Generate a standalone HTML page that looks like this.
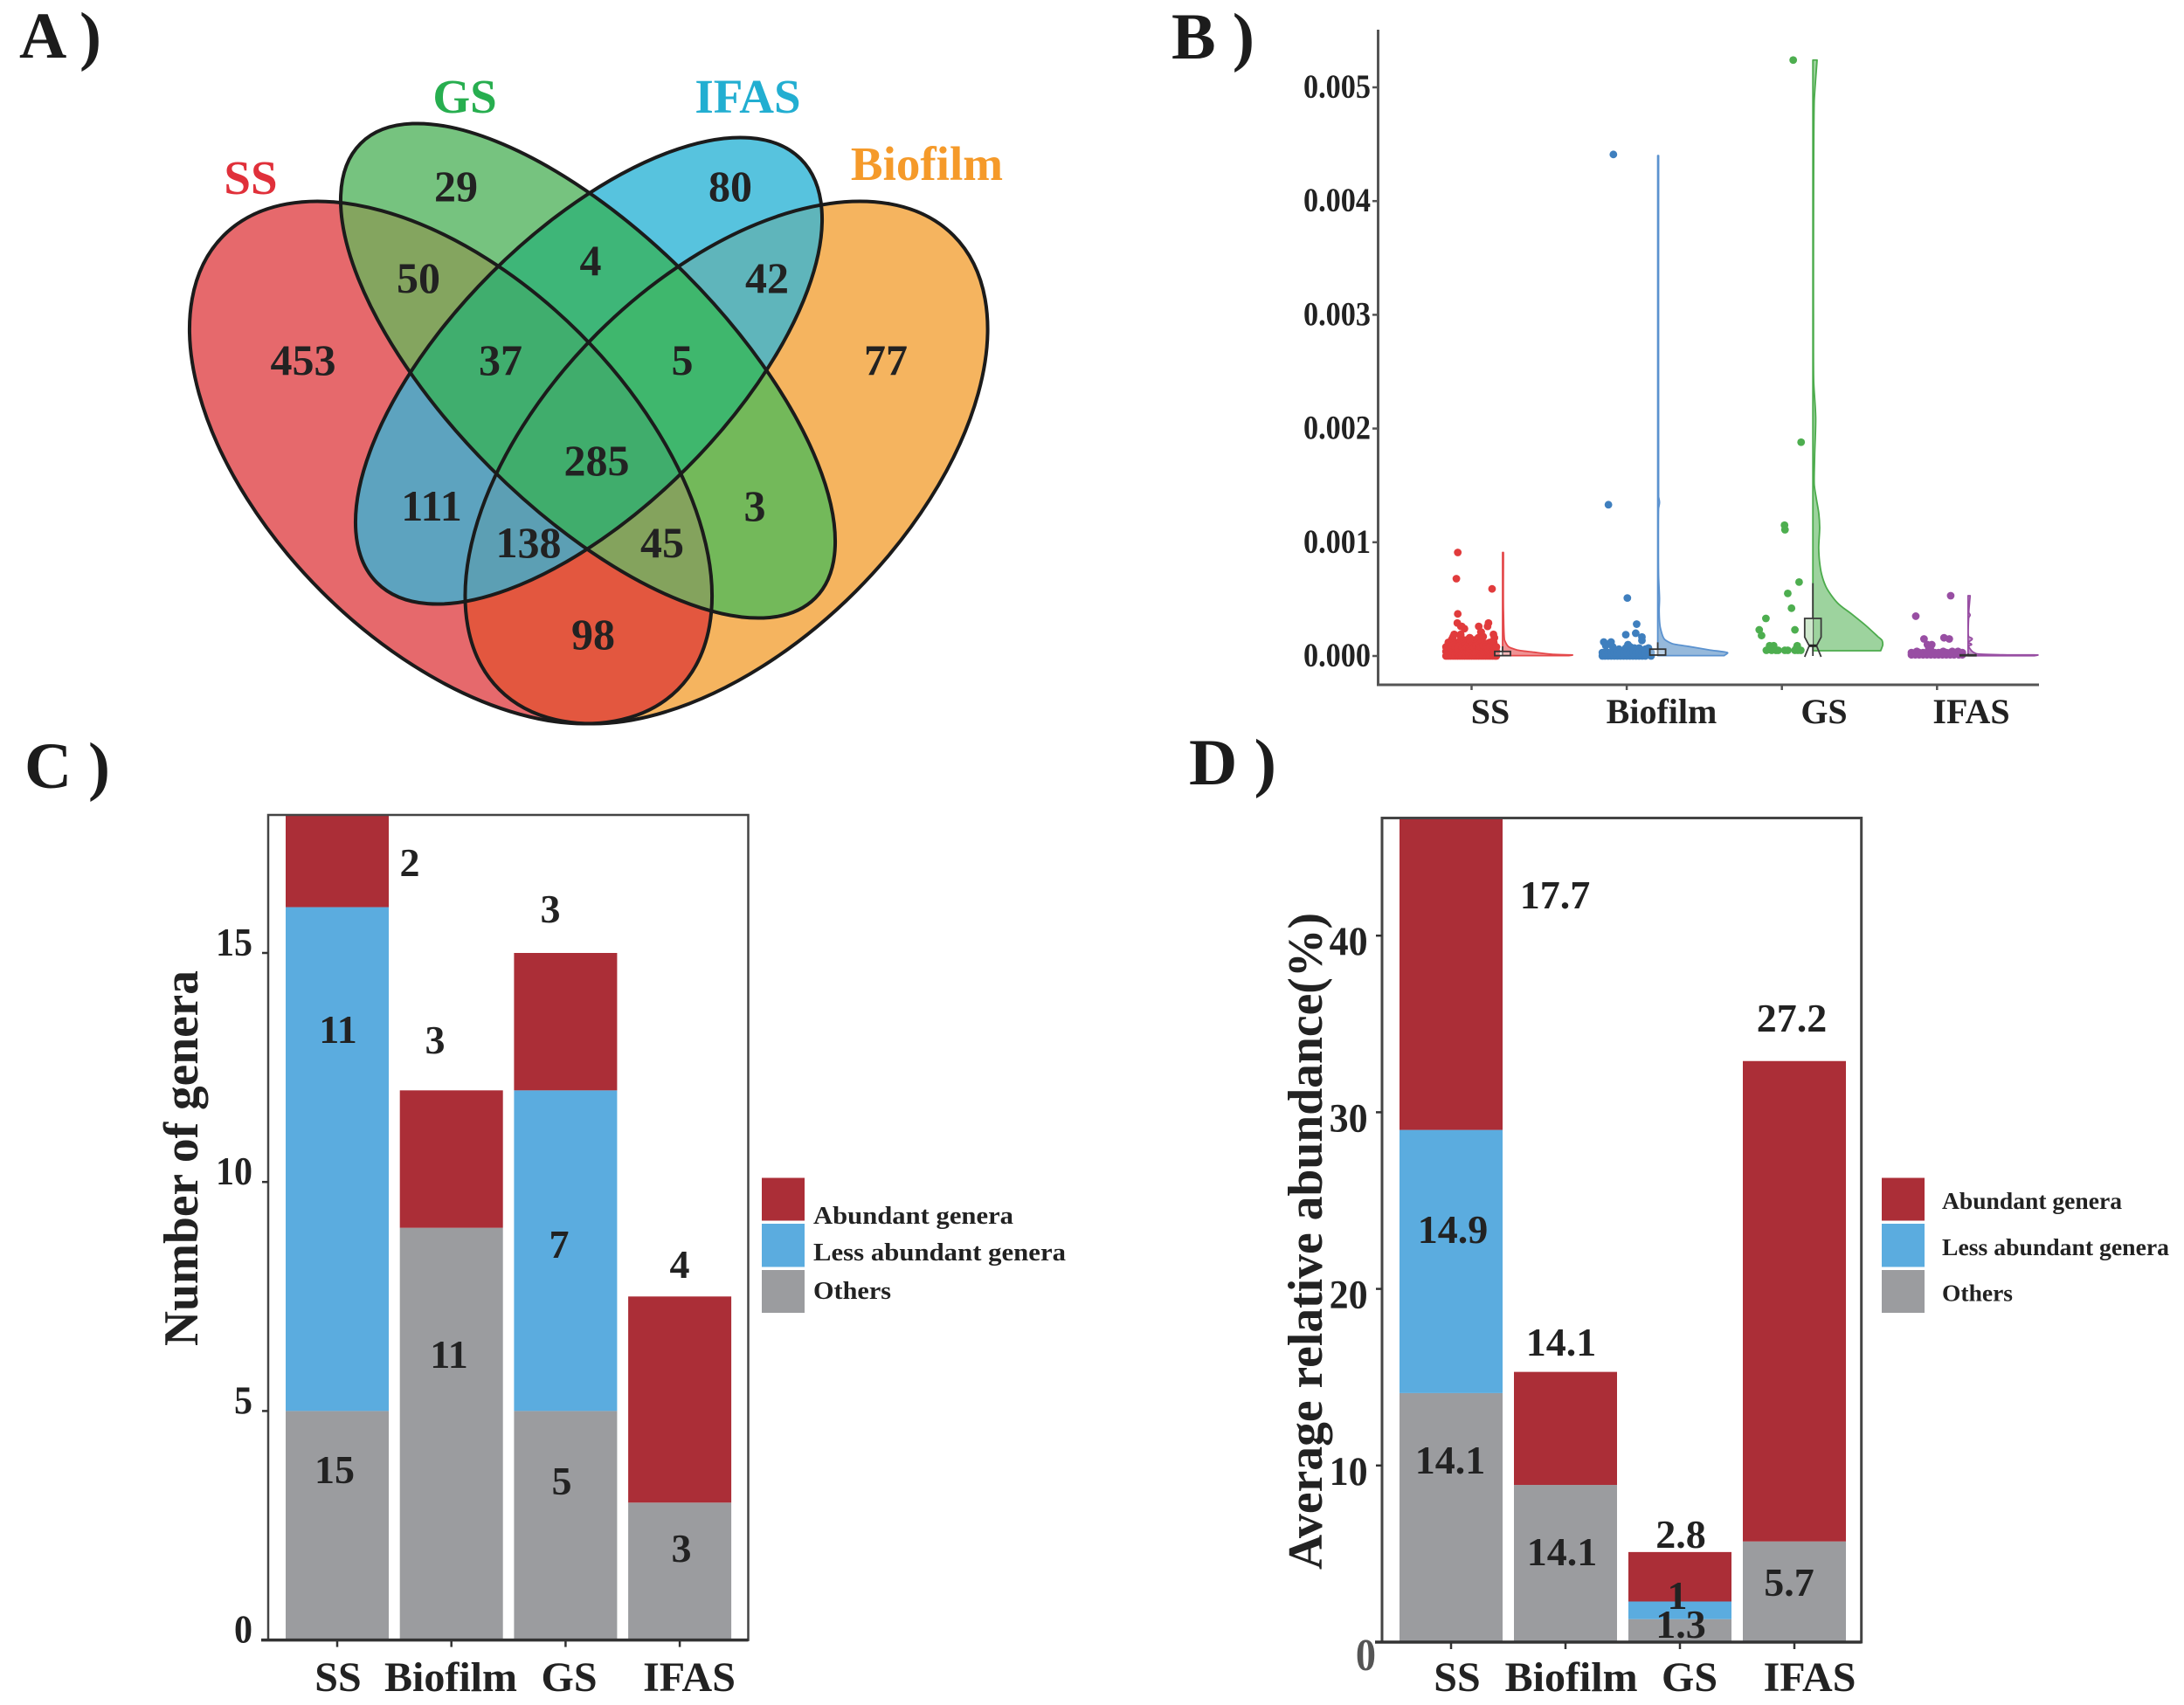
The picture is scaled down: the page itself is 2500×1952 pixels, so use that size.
<!DOCTYPE html>
<html lang="en">
<head>
<meta charset="utf-8">
<title>Genera Venn diagram, abundance raincloud and stacked bars</title>
<style>
html,body{margin:0;padding:0;background:#fff;}
svg{display:block;}
text{font-family:"Liberation Serif",serif;font-weight:bold;fill:#222;}
.mid{text-anchor:middle;}
.venn-count{font-size:50px;text-anchor:middle;}
.venn-title{font-size:55px;text-anchor:middle;}
.panel{font-size:75px;fill:#1c1c1c;}
.xlab{font-size:48px;text-anchor:middle;}
.xlab-b{font-size:40px;text-anchor:middle;}
.val{font-size:46px;text-anchor:middle;}
.leg-c{font-size:29px;}
.leg-d{font-size:27px;}
</style>
</head>
<body>
<svg id="figure" xmlns="http://www.w3.org/2000/svg" width="2500" height="1952" viewBox="0 0 2500 1952">
<rect x="0" y="0" width="2500" height="1952" fill="#ffffff"/>
<defs>
<clipPath id="cSS"><ellipse cx="516" cy="529.5" rx="367.6" ry="209" transform="rotate(45 516 529.5)"/></clipPath>
<clipPath id="cBio"><ellipse cx="831.5" cy="529.5" rx="367.6" ry="209" transform="rotate(-45 831.5 529.5)"/></clipPath>
<clipPath id="cGS"><ellipse cx="673" cy="424.5" rx="368" ry="157.5" transform="rotate(45 673 424.5)"/></clipPath>
<clipPath id="cIF"><ellipse cx="674" cy="424.5" rx="343" ry="158" transform="rotate(-45 674 424.5)"/></clipPath>
</defs>

<text class="panel" x="22" y="66" textLength="94" lengthAdjust="spacingAndGlyphs">A )</text>
<text class="panel" x="1341" y="67" textLength="95" lengthAdjust="spacingAndGlyphs">B )</text>
<text class="panel" x="28" y="902" textLength="98" lengthAdjust="spacingAndGlyphs">C )</text>
<text class="panel" x="1361" y="898" textLength="100" lengthAdjust="spacingAndGlyphs">D )</text>

<g>
  <ellipse cx="516" cy="529.5" rx="367.6" ry="209" transform="rotate(45 516 529.5)" fill="#e6696c"/>
  <ellipse cx="831.5" cy="529.5" rx="367.6" ry="209" transform="rotate(-45 831.5 529.5)" fill="#f5b45f"/>
  <ellipse cx="673" cy="424.5" rx="368" ry="157.5" transform="rotate(45 673 424.5)" fill="#76c37f"/>
  <ellipse cx="674" cy="424.5" rx="343" ry="158" transform="rotate(-45 674 424.5)" fill="#57c3de"/>
  <g clip-path="url(#cSS)"><rect clip-path="url(#cBio)" width="1300" height="900" fill="#e3573f"/></g>
  <g clip-path="url(#cSS)"><rect clip-path="url(#cGS)" width="1300" height="900" fill="#84a55f"/></g>
  <g clip-path="url(#cSS)"><rect clip-path="url(#cIF)" width="1300" height="900" fill="#5da3bf"/></g>
  <g clip-path="url(#cBio)"><rect clip-path="url(#cGS)" width="1300" height="900" fill="#73b95a"/></g>
  <g clip-path="url(#cBio)"><rect clip-path="url(#cIF)" width="1300" height="900" fill="#5fb5bb"/></g>
  <g clip-path="url(#cGS)"><rect clip-path="url(#cIF)" width="1300" height="900" fill="#3eb678"/></g>
  <g clip-path="url(#cSS)"><g clip-path="url(#cGS)"><rect clip-path="url(#cIF)" width="1300" height="900" fill="#40ae6e"/></g></g>
  <g clip-path="url(#cBio)"><g clip-path="url(#cGS)"><rect clip-path="url(#cIF)" width="1300" height="900" fill="#3fb76d"/></g></g>
  <g clip-path="url(#cSS)"><g clip-path="url(#cBio)"><rect clip-path="url(#cIF)" width="1300" height="900" fill="#5c9fb4"/></g></g>
  <g clip-path="url(#cSS)"><g clip-path="url(#cBio)"><rect clip-path="url(#cGS)" width="1300" height="900" fill="#84a35d"/></g></g>
  <g clip-path="url(#cSS)"><g clip-path="url(#cBio)"><g clip-path="url(#cGS)"><rect clip-path="url(#cIF)" width="1300" height="900" fill="#40ad6c"/></g></g></g>
  <g fill="none" stroke="#1b1b1b" stroke-width="4">
    <ellipse cx="516" cy="529.5" rx="367.6" ry="209" transform="rotate(45 516 529.5)"/>
    <ellipse cx="831.5" cy="529.5" rx="367.6" ry="209" transform="rotate(-45 831.5 529.5)"/>
    <ellipse cx="673" cy="424.5" rx="368" ry="157.5" transform="rotate(45 673 424.5)"/>
    <ellipse cx="674" cy="424.5" rx="343" ry="158" transform="rotate(-45 674 424.5)"/>
  </g>
  <text class="venn-title" x="287" y="222" style="fill:#e0303a">SS</text>
  <text class="venn-title" x="532" y="129" style="fill:#27ae4f">GS</text>
  <text class="venn-title" x="856" y="129" style="fill:#22aed1">IFAS</text>
  <text class="venn-title" x="1061" y="206" style="fill:#f59a2a">Biofilm</text>
  <text class="venn-count" x="347" y="429">453</text>
  <text class="venn-count" x="522" y="230">29</text>
  <text class="venn-count" x="836" y="230">80</text>
  <text class="venn-count" x="479" y="335">50</text>
  <text class="venn-count" x="676" y="315">4</text>
  <text class="venn-count" x="878" y="335">42</text>
  <text class="venn-count" x="573" y="429">37</text>
  <text class="venn-count" x="781" y="429">5</text>
  <text class="venn-count" x="1014" y="429">77</text>
  <text class="venn-count" x="683" y="544">285</text>
  <text class="venn-count" x="494" y="596">111</text>
  <text class="venn-count" x="864" y="596">3</text>
  <text class="venn-count" x="605" y="638">138</text>
  <text class="venn-count" x="758" y="638">45</text>
  <text class="venn-count" x="679" y="743">98</text>
</g>

<g id="panel-b"></g>
<text class="xlab-b" x="1706" y="828">SS</text>
<text class="xlab-b" x="1902" y="828">Biofilm</text>
<text class="xlab-b" x="2088" y="828">GS</text>
<text class="xlab-b" x="2256.5" y="828">IFAS</text>

<g id="panel-c"></g>
<text class="mid" font-size="56" transform="translate(226 1326) rotate(-90)" textLength="430" lengthAdjust="spacingAndGlyphs">Number of genera</text>
<text class="xlab" x="387" y="1936">SS</text>
<text class="xlab" x="516" y="1936">Biofilm</text>
<text class="xlab" x="651.5" y="1936">GS</text>
<text class="xlab" x="789" y="1936">IFAS</text>
<text class="val" x="469" y="1003">2</text>
<text class="val" x="498" y="1206">3</text>
<text class="val" x="630" y="1056">3</text>
<text class="val" x="778" y="1463">4</text>
<text class="val" x="387" y="1194">11</text>
<text class="val" x="383" y="1698">15</text>
<text class="val" x="514" y="1566">11</text>
<text class="val" x="640" y="1440">7</text>
<text class="val" x="643" y="1711">5</text>
<text class="val" x="780" y="1788">3</text>
<g>
  <rect x="872" y="1348.5" width="49" height="49" fill="#ab2e37"/>
  <rect x="872" y="1401" width="49" height="49.5" fill="#5bacdf"/>
  <rect x="872" y="1454" width="49" height="49" fill="#9b9c9f"/>
  <text class="leg-c" x="931" y="1401" textLength="229" lengthAdjust="spacingAndGlyphs">Abundant genera</text>
  <text class="leg-c" x="931" y="1443" textLength="289" lengthAdjust="spacingAndGlyphs">Less abundant genera</text>
  <text class="leg-c" x="931" y="1487" textLength="89" lengthAdjust="spacingAndGlyphs">Others</text>
</g>

<g id="panel-d"></g>
<text class="mid" font-size="56" transform="translate(1513 1421) rotate(-90)" textLength="752" lengthAdjust="spacingAndGlyphs">Average relative abundance(%)</text>
<text class="xlab" x="1668" y="1936">SS</text>
<text class="xlab" x="1798.6" y="1936">Biofilm</text>
<text class="xlab" x="1934" y="1936">GS</text>
<text class="xlab" x="2071.5" y="1936">IFAS</text>
<text class="val" x="1780" y="1040">17.7</text>
<text class="val" x="1663" y="1423">14.9</text>
<text class="val" x="1660" y="1687">14.1</text>
<text class="val" x="1787" y="1552">14.1</text>
<text class="val" x="1788" y="1792">14.1</text>
<text class="val" x="2051" y="1181">27.2</text>
<text class="val" x="1924" y="1772">2.8</text>
<text class="val" x="1920" y="1842">1</text>
<text class="val" x="1924" y="1875">1.3</text>
<text class="val" x="2048" y="1827">5.7</text>
<g>
  <rect x="2154" y="1348.5" width="49" height="49" fill="#ab2e37"/>
  <rect x="2154" y="1401" width="49" height="49.5" fill="#5bacdf"/>
  <rect x="2154" y="1454" width="49" height="49" fill="#9b9c9f"/>
  <text class="leg-d" x="2223" y="1384" textLength="206" lengthAdjust="spacingAndGlyphs">Abundant genera</text>
  <text class="leg-d" x="2223" y="1437" textLength="260" lengthAdjust="spacingAndGlyphs">Less abundant genera</text>
  <text class="leg-d" x="2223" y="1489.5" textLength="81" lengthAdjust="spacingAndGlyphs">Others</text>
</g>
</svg>

<script>
/* ---------- Panel B data ---------- */
const bCategories = ['SS', 'Biofilm', 'GS', 'IFAS'];
const bTickValues = [0, 0.001, 0.002, 0.003, 0.004, 0.005];
const bTickLabels = ['0.000', '0.001', '0.002', '0.003', '0.004', '0.005'];

const ssValues = [0.00091,0.00068,0.00059,0.00037,0.00029,0.00026,0.00024,0.00026,0.00029,0.00026,0.00021,0.00019,0.00015,0.00017,0.00016,0.00017,0.00019,0.00016,0.00015,0.00014,0.00012,0.00011,0.00012,0.00012,0.00011,
0.00017,0.00014,0.00011,0.00026,0.00019,0.00014,0.00016,0.00014,0.00021,0.00016,0.00012,0.00011,0.00011,0.00012,0.00011,0.00012,0.00011,0.00012,0.00011,0.00012,
0,0,0,0,0,0,0,0,0,0,0,0,0,0,0,0,0,0,0,0,0,0,0,
0.00004,0.00004,0.00004,0.00004,0.00004,0.00004,0.00004,0.00004,0.00004,0.00004,0.00004,0.00004,0.00004,0.00004,0.00004,0.00004,0.00004,0.00004,0.00004,0.00004,0.00004,0.00004,0.00004,
0.00008,0.00009,0.00007,0.00009,0.00008,0.00007,0.00009,0.00008,0.00009,0.00008,0.00007,0.00009,0.00008,0.00009,0.00007,0.00008,0.00009,0.00008,0.00007,0.00008,0.00009,0.00007,0.00008];
const ssJitter = [-0.089,-0.098,0.132,-0.089,-0.092,-0.069,-0.046,0.046,0.109,0.103,0.06,-0.112,-0.126,-0.069,-0.011,0.075,0.141,0.147,0.046,-0.034,0.017,-0.14,-0.09,0.118,0.089,
-0.119,-0.125,-0.131,-0.063,-0.07,-0.07,-0.013,0.015,0.062,0.043,0.143,0.081,-0.041,-0.01,-0.12,-0.15,0.03,0.06,0.1,0.13,
-0.165,-0.15,-0.135,-0.12,-0.105,-0.09,-0.075,-0.06,-0.045,-0.03,-0.015,0,0.015,0.03,0.045,0.06,0.075,0.09,0.105,0.12,0.135,0.15,0.16,
-0.165,-0.15,-0.135,-0.12,-0.105,-0.09,-0.075,-0.06,-0.045,-0.03,-0.015,0,0.015,0.03,0.045,0.06,0.075,0.09,0.105,0.12,0.135,0.15,0.16,
-0.165,-0.15,-0.135,-0.12,-0.105,-0.09,-0.075,-0.06,-0.045,-0.03,-0.015,0,0.015,0.03,0.045,0.06,0.075,0.09,0.105,0.12,0.135,0.15,0.16];

const biofilmValues = [0.00441,0.00133,0.00051,0.00028,0.000187,0.0002,0.000167,0.000136,0.000123,0.000123,0.0001,0.00009,0.00008,0.00007,0.00008,0.00007,0.00006,0.00007,0.00006,0.00007,
0,0,0,0,0,0,0,0,0,0,0,0,0,0,0,0,0.00003,0.00003,0.00003,0.00003,0.00003,0.00003,0.00003,0.00003,0.00003,0.00003,0.00003,0.00003,0.00003,0.00003,0.00003,0.00003];
const biofilmJitter = [-0.086,-0.118,0.004,0.064,-0.006,0.058,0.098,0.098,-0.148,-0.101,0.008,-0.135,-0.09,-0.006,0.023,0.08,-0.05,0.05,0.12,0.14,
-0.157,-0.14,-0.12,-0.1,-0.08,-0.06,-0.04,-0.02,0,0.02,0.04,0.06,0.08,0.1,0.12,0.157,-0.157,-0.14,-0.12,-0.1,-0.08,-0.06,-0.04,-0.02,0,0.02,0.04,0.06,0.08,0.1,0.12,0.157];

const gsValues = [0.00524,0.00188,0.00115,0.00111,0.00065,0.00055,0.00042,0.00033,0.00023,0.00018,0.00023,0.00005,0.00005,0.00005,0.00005,0.00005,0.00005,0.00005,0.00005,0.00005,0.00009,0.00009,0.00009,0.00007,0.00007];
const gsJitter = [0.073,0.124,0.017,0.02,0.111,0.038,0.062,-0.103,-0.146,-0.131,0.084,-0.1,-0.066,-0.038,-0.024,0.019,0.038,0.084,0.103,0.122,-0.079,-0.053,0.099,-0.06,0.094];

const ifasValues = [0.00053,0.00035,0.00015,0.00016,0.00015,0.0001,0.0001,0.00006,0.00006,0.00004,0.00004,0.00004,0.00004,
0.00001,0.00001,0.00001,0.00001,0.00001,0.00001,0.00001,0.00001,0.00001,0.00001,0.00001,0.00001,0.00001,0.00001,0.00003,0.00003,0.00003,0.00003,0.00003,0.00003,0.00003,0.00003,0.00003,0.00003,0.00003,0.00003,0.00003,0.00003];
const ifasJitter = [0.088,-0.137,-0.084,0.045,0.079,-0.062,-0.034,-0.053,-0.043,-0.13,0.04,0.098,0.135,
-0.165,-0.14,-0.115,-0.09,-0.065,-0.04,-0.015,0.01,0.035,0.06,0.085,0.11,0.14,0.163,-0.165,-0.14,-0.115,-0.09,-0.065,-0.04,-0.015,0.01,0.035,0.06,0.085,0.11,0.14,0.163];

const ssViolinValues = [0.000003,0.000008,0.000015,0.000033,0.000054,0.000084,0.000136,0.0004,0.00091];
const ssViolinDensity = [0.95,1,0.7,0.45,0.2,0.08,0.03,0.012,0.012];
const biofilmViolinValues = [0.000003,0.000026,0.000054,0.000084,0.00011,0.000148,0.00024,0.00039,0.0005,0.0007,0.0013,0.00135,0.0014,0.0044];
const biofilmViolinDensity = [0.95,1,0.73,0.44,0.2,0.095,0.04,0.02,0.025,0.012,0.012,0.025,0.012,0.012];
const gsViolinValues = [0.000046,0.0001,0.000136,0.00017,0.000264,0.000366,0.000468,0.00061,0.00072,0.00083,0.00095,0.00113,0.00125,0.00138,0.0015,0.00176,0.0021,0.0024,0.003,0.0049,0.00524];
const gsViolinDensity = [0.97,1,0.99,0.93,0.764,0.56,0.35,0.186,0.124,0.095,0.083,0.097,0.085,0.05,0.02,0.025,0.04,0.012,0.008,0.02,0.06];
const ifasViolinValues = [0.000002,0.000008,0.00001,0.00002,0.00004,0.00009,0.0001,0.00012,0.00015,0.00017,0.00034,0.00036,0.00038,0.00053];
const ifasViolinDensity = [0.95,1,0.5,0.12,0.06,0.01,0.05,0.01,0.06,0.01,0.012,0.03,0.012,0.03];

const ssBox = [0, 0.000003, 0.00002, 0.00004, 0.000085];
const biofilmBox = [0, 0.000008, 0.00002, 0.00006, 0.00012];
const gsBox = [0, 0, 0.00009, 0.00033, 0.00064];
const gsNotch = [0, 0.000166];
const ifasBox = [0, 0.000002, 0.000005, 0.00001, 0.00002];

/* ---------- Panel C data ---------- */
const cCategories = ['SS', 'Biofilm', 'GS', 'IFAS'];
const cOthers = [5, 9, 5, 3];
const cLess = [11, 0, 7, 0];
const cAbundant = [2, 3, 3, 4.5];
const cTicks = [0, 5, 10, 15];

/* ---------- Panel D data ---------- */
const dCategories = ['SS', 'Biofilm', 'GS', 'IFAS'];
const dOthers = [14.1, 8.9, 1.3, 5.7];
const dLess = [14.9, 0, 1, 0];
const dAbundant = [17.7, 6.4, 2.8, 27.2];
const dTicks = [0, 10, 20, 30, 40];

/* ---------- helpers ---------- */
const NS = 'http://www.w3.org/2000/svg';
function mk(parent, tag, geometry) {
  const el = document.createElementNS(NS, tag);
  for (const k in geometry) el.setAttribute(k, geometry[k]);
  parent.appendChild(el);
  return el;
}
function smoothSegments(pts) {
  const n = pts.length;
  const at = i => pts[Math.max(0, Math.min(n - 1, i))];
  const gap = (a, b) => Math.hypot(b[0] - a[0], b[1] - a[1]);
  const tangent = i => {
    const a = at(i - 1), p = at(i), b = at(i + 1);
    const d1 = gap(a, p) || 1;
    const d2 = gap(p, b) || 1;
    const dx = (p[0] - a[0]) * d2 / d1 + (b[0] - p[0]) * d1 / d2;
    const dy = (p[1] - a[1]) * d2 / d1 + (b[1] - p[1]) * d1 / d2;
    const len = Math.hypot(dx, dy) || 1;
    return [dx / len, dy / len];
  };
  const handle = i => {
    const d1 = i > 0 ? gap(at(i - 1), at(i)) : Infinity;
    const d2 = i < n - 1 ? gap(at(i), at(i + 1)) : Infinity;
    return Math.min(d1, d2) / 3;
  };
  let d = '';
  for (let i = 0; i < n - 1; i++) {
    const p = at(i), q = at(i + 1);
    const tp = tangent(i), tq = tangent(i + 1);
    const hp = handle(i), hq = handle(i + 1);
    d += 'C' + (p[0] + tp[0] * hp).toFixed(2) + ' ' + (p[1] + tp[1] * hp).toFixed(2) + ' ' +
         (q[0] - tq[0] * hq).toFixed(2) + ' ' + (q[1] - tq[1] * hq).toFixed(2) + ' ' +
         q[0].toFixed(2) + ' ' + q[1].toFixed(2);
  }
  return d;
}

/* ---------- Panel B ---------- */
(function () {
  const g = document.getElementById('panel-b');
  const yB = v => 751 - v * 130200;
  const xB = c => 1684.5 + c * 177.6;
  const axisColor = '#555555';

  const yAxis = mk(g, 'line', {x1: 1577.5, x2: 1577.5, y1: 34, y2: 785, stroke: axisColor, 'stroke-width': 3});
  
  
  const xAxis = mk(g, 'line', {x1: 1576, x2: 2334, y1: 784, y2: 784, stroke: axisColor, 'stroke-width': 3});
  
  

  bTickValues.forEach((v, i) => {
    const t = mk(g, 'line', {x1: 1571, x2: 1577, y1: yB(v), y2: yB(v), stroke: axisColor, 'stroke-width': 2.5});
    
    
    const lab = mk(g, 'text', {x: 1569, y: yB(v) + 12, 'text-anchor': 'end', 'font-size': 39, textLength: 77, lengthAdjust: 'spacingAndGlyphs'});
    lab.textContent = bTickLabels[i];
    
    
  });
  bCategories.forEach((c, i) => {
    const t = mk(g, 'line', {x1: xB(i), x2: xB(i), y1: 784, y2: 790, stroke: axisColor, 'stroke-width': 2.5});
    
    
  });

  const groups = [
    {values: ssValues, jitter: ssJitter, vv: ssViolinValues, vd: ssViolinDensity, box: ssBox, color: '#e13b3c', line: '#e4484a'},
    {values: biofilmValues, jitter: biofilmJitter, vv: biofilmViolinValues, vd: biofilmViolinDensity, box: biofilmBox, color: '#3f7fbe', line: '#5b92cf'},
    {values: gsValues, jitter: gsJitter, vv: gsViolinValues, vd: gsViolinDensity, box: gsBox, color: '#4dae4f', line: '#4cab4c'},
    {values: ifasValues, jitter: ifasJitter, vv: ifasViolinValues, vd: ifasViolinDensity, box: ifasBox, color: '#984ea3', line: '#984ea3'}
  ];

  groups.forEach((s, i) => {
    const base = xB(i) + 35.5;
    const pts = s.vv.map((v, k) => [base + s.vd[k] * 80, yB(v)]);
    const d = 'M' + base + ' ' + yB(s.vv[0]) + 'L' + pts[0][0].toFixed(2) + ' ' + pts[0][1].toFixed(2) +
              smoothSegments(pts) + 'L' + base + ' ' + yB(s.vv[s.vv.length - 1]) + 'Z';
    const violin = mk(g, 'path', {d: d, fill: s.color, 'fill-opacity': 0.55, stroke: s.line, 'stroke-width': 1.8, 'stroke-linejoin': 'round'});
    
    

    s.values.forEach((v, k) => {
      const pt = mk(g, 'circle', {cx: xB(i + s.jitter[k]), cy: yB(v), r: 4.4, fill: s.color});
      
      
    });

    const whisker = mk(g, 'line', {x1: base, x2: base, y1: yB(s.box[0]), y2: yB(s.box[4]), stroke: '#3a3a3a', 'stroke-width': 1.8});
    
    

    if (bCategories[i] === 'GS') {
      const hw = 9.4, nw = 4.2;
      const yq3 = yB(s.box[3]), yhi = yB(gsNotch[1]), ym = yB(s.box[2]), ylo = yB(gsNotch[0]);
      const fillHalf = mk(g, 'polygon', {points: [base - hw, yq3, base, yq3, base, ym, base - nw, ym, base - hw, yhi].join(' '), fill: '#cfe8cd'});
      
      
      const notch = mk(g, 'polyline', {points: [base - hw, ylo + 1, base - nw, ym, base - hw, yhi, base - hw, yq3, base + hw, yq3, base + hw, yhi, base + nw, ym, base + hw, ylo + 1].join(' '), fill: 'none', stroke: '#3a3a3a', 'stroke-width': 1.8});
      
      
      const med = mk(g, 'line', {x1: base - nw, x2: base + nw, y1: ym, y2: ym, stroke: '#222', 'stroke-width': 3});
      
      
    } else {
      const h = Math.max(yB(s.box[1]) - yB(s.box[3]), 1);
      const box = mk(g, 'rect', {x: base - 9, y: yB(s.box[3]), width: 18, height: h, fill: '#ffffff', 'fill-opacity': 0.35, stroke: '#333', 'stroke-width': 1.8});
      
      
    }
  });
})();

/* ---------- Panels C and D ---------- */
function stackedChart(g, opt) {
  const y = opt.y, x = opt.x;
  const stacks = [
    {vals: opt.others, color: '#9b9c9f', name: 'others'},
    {vals: opt.less, color: '#5bacdf', name: 'less-abundant'},
    {vals: opt.abundant, color: '#ab2e37', name: 'abundant'}
  ];
  opt.categories.forEach((c, i) => {
    let cum = 0;
    stacks.forEach(s => {
      const v = s.vals[i];
      if (v > 0) {
        const top = y(cum + v), bottom = y(cum);
        const bar = mk(g, 'rect', {x: x(i) - opt.barW / 2, y: top, width: opt.barW, height: bottom - top, fill: s.color});
        
        
      }
      cum += v;
    });
    const t = mk(g, 'line', {x1: x(i), x2: x(i), y1: opt.bottom, y2: opt.bottom + 8, stroke: '#333', 'stroke-width': 2.5});
    
    
  });
  const frame = mk(g, 'rect', {x: opt.left, y: opt.top, width: opt.right - opt.left, height: opt.bottom - opt.top, fill: 'none', stroke: '#444', 'stroke-width': opt.frameW});
  
  
  const baseLine = mk(g, 'line', {x1: opt.left - 8, x2: opt.right, y1: opt.bottom, y2: opt.bottom, stroke: '#333', 'stroke-width': 3.5});
  
  
  opt.ticks.forEach(v => {
    const t = mk(g, 'line', {x1: opt.left - 7, x2: opt.left, y1: y(v), y2: y(v), stroke: '#333', 'stroke-width': 2.5});
    
    
    const special = opt.zeroDrop && v === 0;
    const lab = mk(g, 'text', {
      x: special ? opt.left - 7 : opt.labelRight,
      y: y(v) + (special ? opt.zeroDrop : opt.labelDy),
      'text-anchor': 'end',
      'font-size': special ? 52 : opt.tickSize,
      textLength: String(v).length * opt.tickDigitW * (special ? 1.05 : 1),
      lengthAdjust: 'spacingAndGlyphs'
    });
    if (special) lab.style.fill = '#555555';
    lab.textContent = String(v);
    
    
  });
}

stackedChart(document.getElementById('panel-c'), {
  categories: cCategories, others: cOthers, less: cLess, abundant: cAbundant, ticks: cTicks,
  x: i => 386 + i * 130.7,
  y: v => 1877.6 - v * 52.44,
  barW: 118, left: 307, right: 856.5, top: 933, bottom: 1877.6, frameW: 2.5,
  labelRight: 289, labelDy: 3, tickSize: 46, tickDigitW: 21
});

stackedChart(document.getElementById('panel-d'), {
  categories: dCategories, others: dOthers, less: dLess, abundant: dAbundant, ticks: dTicks,
  x: i => 1661 + i * 131,
  y: v => 1880 - v * 20.22,
  barW: 118, left: 1582, right: 2130.7, top: 936.5, bottom: 1880, frameW: 3,
  labelRight: 1565.6, labelDy: 22, tickSize: 47, tickDigitW: 22, zeroDrop: 32
});
</script>
</body>
</html>
